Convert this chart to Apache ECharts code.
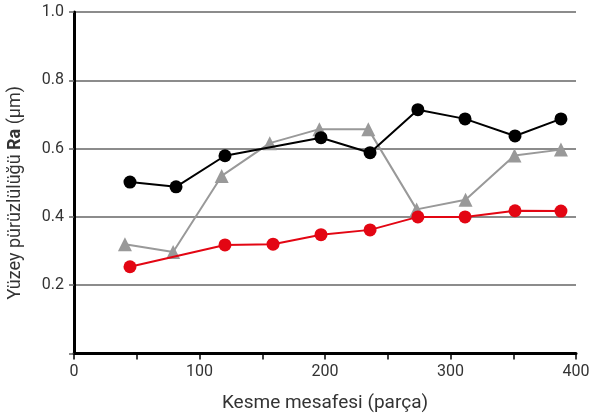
<!DOCTYPE html>
<html><head><meta charset="utf-8">
<script src="https://cdn.jsdelivr.net/npm/echarts@6/dist/echarts.min.js"></script>
<style>html,body{margin:0;padding:0;background:#fff}#c{width:610px;height:416px}</style>
</head><body><div id="c"></div>
<script>
const blackX = [44.6, 81.3, 120.3, 196.8, 235.9, 274, 311.6, 351.4, 388];
const blackY = [0.502, 0.488, 0.579, 0.632, 0.588, 0.714, 0.687, 0.637, 0.687];
const redX = [44.6, 120.3, 158.6, 196.8, 235.9, 274, 311.6, 351.4, 388];
const redY = [0.254, 0.318, 0.320, 0.348, 0.362, 0.400, 0.400, 0.418, 0.417];
const grayX = [40.6, 79, 117.7, 156, 195.5, 234.5, 273, 312, 351, 388];
const grayY = [0.320, 0.297, 0.520, 0.616, 0.657, 0.657, 0.422, 0.450, 0.580, 0.597];
const xTickLabels = ['0', '100', '200', '300', '400'];
const yTickLabels = ['0.2', '0.4', '0.6', '0.8', '1.0'];
const xTitle = 'Kesme mesafesi (parça)';

const pair = (xs, ys) => xs.map((x, i) => [x, ys[i]]);
const font = 'Roboto';
const chart = echarts.init(document.getElementById('c'));
chart.setOption({
  animation: false,
  grid: {left: 74, right: 34, top: 12, bottom: 62.5, containLabel: false, outerBoundsMode: 'none'},
  xAxis: {
    type: 'value', min: 0, max: 400, interval: 50,
    axisLine: {lineStyle: {color: '#000', width: 3}},
    axisTick: {show: true, length: 6, lineStyle: {color: '#000', width: 1.5}},
    splitLine: {show: false},
    axisLabel: {
      color: '#333', fontFamily: font, fontSize: 16, margin: 10,
      formatter: v => { const s = String(Math.round(v)); return xTickLabels.includes(s) ? s : ''; }
    },
    name: xTitle, nameLocation: 'middle', nameGap: 40,
    nameTextStyle: {color: '#333', fontFamily: font, fontSize: 19}
  },
  yAxis: {
    type: 'value', min: 0, max: 1, interval: 0.2,
    axisLine: {show: true, lineStyle: {color: '#000', width: 3}},
    axisTick: {show: true, length: 5, lineStyle: {color: '#666', width: 1.5}},
    splitLine: {show: true, lineStyle: {color: '#666', width: 1.5}},
    axisLabel: {
      color: '#333', fontFamily: font, fontSize: 16, margin: 10,
      formatter: v => { const s = v.toFixed(1); return yTickLabels.includes(s) ? s : ''; }
    },
    name: '{n|Yüzey pürüzlülüğü }{b|Ra}{n| (µm)}', nameLocation: 'middle', nameGap: 50,
    nameTextStyle: {
      padding: [0, 20, 0, 0],
      rich: {
        n: {color: '#333', fontFamily: font, fontSize: 18},
        b: {color: '#333', fontFamily: font, fontSize: 18, fontWeight: 'bold'}
      }
    }
  },
  series: [
    {type: 'line', data: pair(grayX, grayY), symbol: 'triangle', symbolSize: 14,
     lineStyle: {color: '#999', width: 2}, itemStyle: {color: '#999'}, z: 2},
    {type: 'line', data: pair(blackX, blackY), symbol: 'circle', symbolSize: 13,
     lineStyle: {color: '#000', width: 2}, itemStyle: {color: '#000'}, z: 3},
    {type: 'line', data: pair(redX, redY), symbol: 'circle', symbolSize: 13,
     lineStyle: {color: '#e30613', width: 2}, itemStyle: {color: '#e30613'}, z: 4}
  ]
});
</script></body></html>
